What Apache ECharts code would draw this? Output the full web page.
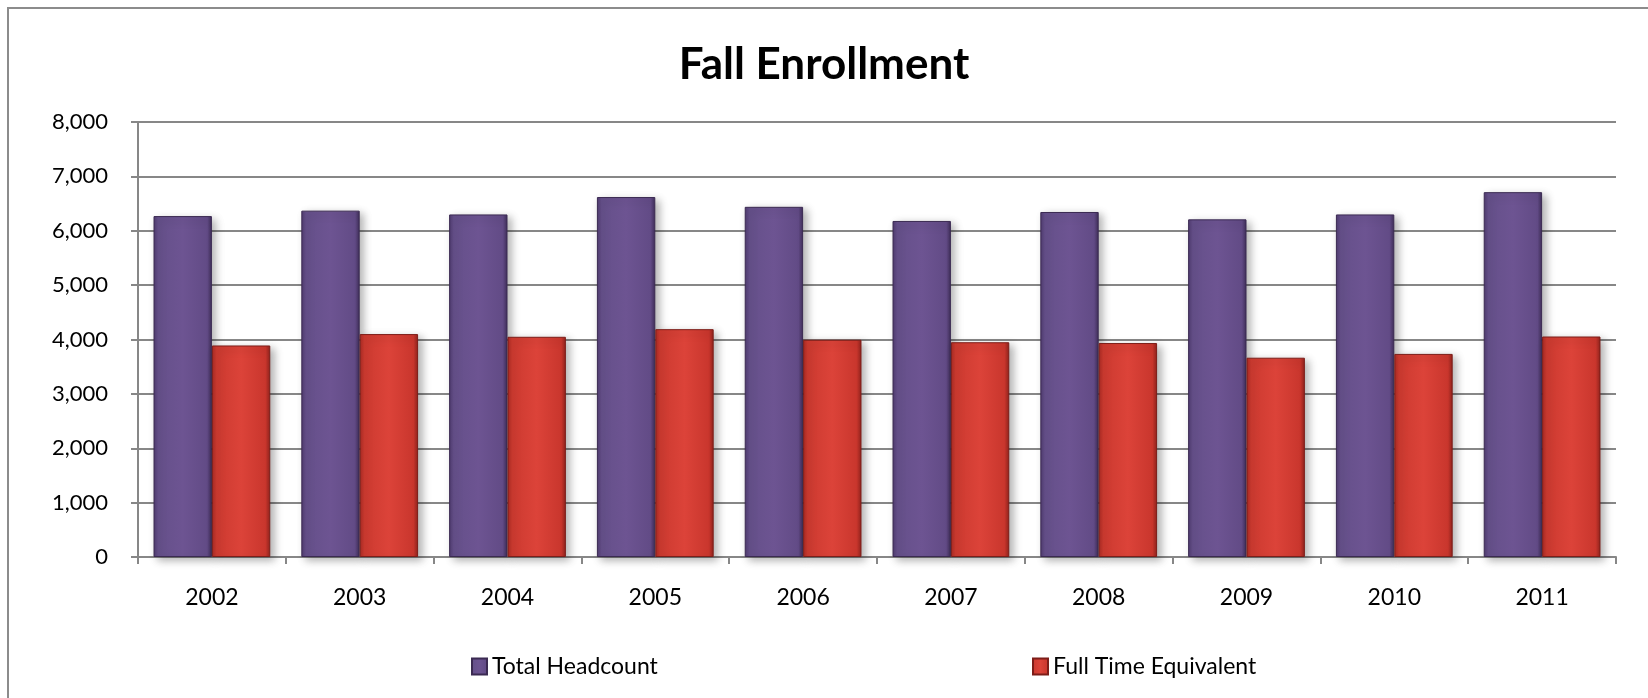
<!DOCTYPE html>
<html>
<head>
<meta charset="utf-8">
<script src="https://cdn.jsdelivr.net/npm/echarts@6/dist/echarts.min.js"></script>
<style>
html,body{margin:0;padding:0;background:#fff;}
#chart{width:1648px;height:698px;}
</style>
</head>
<body>
<div id="chart"></div>
<script>
const categories = ['2002','2003','2004','2005','2006','2007','2008','2009','2010','2011'];
const totalHeadcount = [6270, 6370, 6300, 6620, 6440, 6180, 6345, 6210, 6300, 6710];
const fullTimeEquivalent = [3890, 4100, 4050, 4190, 3995, 3950, 3935, 3665, 3735, 4055];
const yTicks = [0, 1000, 2000, 3000, 4000, 5000, 6000, 7000, 8000];

const FONT = 'Lato, "Open Sans", sans-serif';

const purpleGrad = new echarts.graphic.LinearGradient(0, 0, 1, 0, [
  {offset: 0, color: '#4f3a6e'},
  {offset: 0.08, color: '#65508a'},
  {offset: 0.5, color: '#6d5492'},
  {offset: 0.92, color: '#624b86'},
  {offset: 1, color: '#3e2d58'}
]);
const redGrad = new echarts.graphic.LinearGradient(0, 0, 1, 0, [
  {offset: 0, color: '#a82a22'},
  {offset: 0.08, color: '#cc3a30'},
  {offset: 0.5, color: '#dc4339'},
  {offset: 0.92, color: '#c9362d'},
  {offset: 1, color: '#8f221c'}
]);

const chart = echarts.init(document.getElementById('chart'));
chart.setOption({
  backgroundColor: '#ffffff',
  animation: false,
  title: {
    text: 'Fall Enrollment',
    left: 'center',
    top: 38,
    textStyle: {fontFamily: FONT, fontWeight: 'bold', fontSize: 44, color: '#000'}
  },
  graphic: [{
    type: 'rect',
    silent: true,
    shape: {x: 8, y: 8, width: 1700, height: 1000},
    style: {fill: 'none', stroke: '#8c8c8c', lineWidth: 2}
  }],
  legend: [{
    left: 466,
    top: 650,
    itemWidth: 15,
    itemHeight: 16,
    itemGap: 6,
    icon: 'rect',
    data: ['Total Headcount'],
    textStyle: {fontFamily: FONT, fontSize: 23, color: '#000'}
  }, {
    left: 1027,
    top: 650,
    itemWidth: 15,
    itemHeight: 16,
    icon: 'rect',
    data: ['Full Time Equivalent'],
    textStyle: {fontFamily: FONT, fontSize: 23, color: '#000'}
  }],
  grid: {left: 138, right: 32, top: 122, bottom: 141, containLabel: false},
  xAxis: {
    type: 'category',
    data: categories,
    axisLine: {show: true, lineStyle: {color: '#878787', width: 2}},
    axisTick: {show: true, alignWithLabel: false, length: 7, lineStyle: {color: '#878787', width: 2}},
    axisLabel: {fontFamily: FONT, fontSize: 23, color: '#000', margin: 29}
  },
  yAxis: {
    type: 'value',
    min: yTicks[0],
    max: yTicks[yTicks.length - 1],
    interval: 1000,
    axisLine: {show: true, lineStyle: {color: '#878787', width: 2}},
    axisTick: {show: true, inside: false, length: 7, lineStyle: {color: '#878787', width: 2}},
    splitLine: {show: true, lineStyle: {color: '#878787', width: 2}},
    axisLabel: {
      fontFamily: FONT, fontSize: 22, color: '#000', margin: 30,
      formatter: v => v.toLocaleString('en-US')
    }
  },
  series: [{
    name: 'Total Headcount',
    type: 'bar',
    data: totalHeadcount,
    barGap: '0%',
    barCategoryGap: '21%',
    itemStyle: {
      color: purpleGrad,
      borderColor: '#3b2a52',
      borderWidth: 1,
      shadowBlur: 8,
      shadowOffsetX: 4,
      shadowOffsetY: 3,
      shadowColor: 'rgba(0,0,0,0.3)'
    }
  }, {
    name: 'Full Time Equivalent',
    type: 'bar',
    data: fullTimeEquivalent,
    barGap: '0%',
    barCategoryGap: '21%',
    itemStyle: {
      color: redGrad,
      borderColor: '#7d1d18',
      borderWidth: 1,
      shadowBlur: 8,
      shadowOffsetX: 4,
      shadowOffsetY: 3,
      shadowColor: 'rgba(0,0,0,0.3)'
    }
  }]
});
</script>
</body>
</html>
